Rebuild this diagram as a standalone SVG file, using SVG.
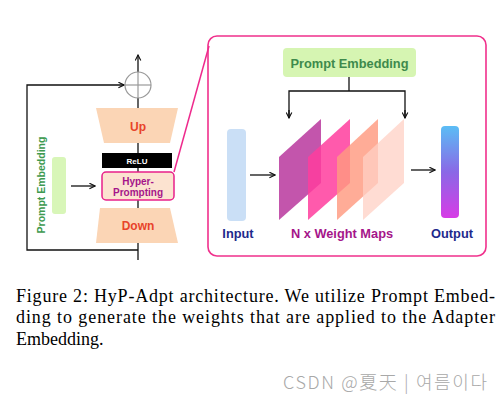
<svg xmlns="http://www.w3.org/2000/svg" width="502" height="402" viewBox="0 0 502 402">
<style>
.ln{fill:none;stroke:#111;stroke-width:1.3}
.trap{fill:#FBD5B5}
.lbl{font-family:"Liberation Sans",Arial,sans-serif;font-weight:bold;text-anchor:middle}
.cap{font-family:"Liberation Serif","Times New Roman",serif;font-size:18px;fill:#000}
</style>
<defs>
<marker id="ah" viewBox="0 0 10 10" refX="9" refY="5" markerWidth="7" markerHeight="7" orient="auto" markerUnits="userSpaceOnUse">
<path d="M1,1 L9,5 L1,9" fill="none" stroke="#111" stroke-width="1.6"/>
</marker>
<linearGradient id="og" x1="0" y1="0" x2="0" y2="1">
<stop offset="0" stop-color="#5BBDF5"/>
<stop offset="0.5" stop-color="#8A68E6"/>
<stop offset="1" stop-color="#D73BE6"/>
</linearGradient>
</defs>
<rect width="502" height="402" fill="#fff"/>

<g id="panel">
<rect x="208" y="36" width="278" height="220" rx="9" fill="#fff" stroke="#F0308C" stroke-width="1.6"/>
</g>

<g id="connectors">
<line class="ln" x1="138" y1="260" x2="138" y2="55" marker-end="url(#ah)"/>
<polyline class="ln" points="138,250 27,250 27,85 124,85" marker-end="url(#ah)"/>
<line class="ln" x1="71" y1="186" x2="95" y2="186" marker-end="url(#ah)"/>
<line x1="174" y1="172" x2="209" y2="46" stroke="#EE2A8C" stroke-width="1.5"/>
<polyline class="ln" points="349,77 349,91"/>
<polyline class="ln" points="289,118 289,91 405,91 405,118"/>
<line class="ln" x1="289" y1="110" x2="289" y2="118" marker-end="url(#ah)"/>
<line class="ln" x1="405" y1="110" x2="405" y2="118" marker-end="url(#ah)"/>
<line class="ln" x1="250" y1="175" x2="275" y2="175" marker-end="url(#ah)"/>
<line class="ln" x1="411" y1="170" x2="435" y2="170" marker-end="url(#ah)"/>
</g>

<g id="sum">
<circle cx="138" cy="85" r="13" fill="#fff" stroke="#999" stroke-width="1.2"/>
<line x1="125" y1="85" x2="151" y2="85" stroke="#999" stroke-width="1.2"/>
<line x1="138" y1="72" x2="138" y2="98" stroke="#999" stroke-width="1.2"/>
</g>

<g id="up">
<polygon class="trap" points="96,108 178,108 170,143 104,143"/>
<text class="lbl" x="138" y="131" font-size="12" fill="#E8432A">Up</text>
</g>

<g id="relu">
<rect x="102" y="153" width="70" height="15" fill="#000"/>
<text class="lbl" x="137" y="164" font-size="8" fill="#fff">ReLU</text>
</g>

<g id="hyper">
<rect x="102" y="172" width="72" height="28" rx="4" fill="#FCE3D0" stroke="#E8208A" stroke-width="1.5"/>
<text class="lbl" x="138" y="184.5" font-size="10" fill="#A5158A">Hyper-</text>
<text class="lbl" x="138" y="195.5" font-size="10" fill="#A5158A">Prompting</text>
</g>

<g id="down">
<polygon class="trap" points="100,208 170,208 178,243 96,243"/>
<text class="lbl" x="138" y="230" font-size="12" fill="#E8432A">Down</text>
</g>

<g id="prompt-left">
<rect x="52" y="157" width="14" height="57" rx="3" fill="#D8F6B8"/>
<text class="lbl" transform="translate(45,185) rotate(-90)" font-size="10.5" fill="#3E9A50">Prompt Embedding</text>
</g>

<g id="prompt-right">
<rect x="283" y="48" width="133" height="29" rx="4" fill="#D6F5B2"/>
<text class="lbl" x="349.5" y="67.5" font-size="12.8" fill="#3E8A4C">Prompt Embedding</text>
</g>

<g id="input">
<rect x="227" y="129" width="19" height="92" rx="4" fill="#CADFF6"/>
<text class="lbl" x="238" y="238" font-size="12.8" fill="#1E2A8C">Input</text>
</g>

<g id="weights">
<polygon points="279,157 321,119 321,183 279,220" fill="#C04CA8" opacity="0.95"/>
<polygon points="308,157 350,119 350,183 308,220" fill="#FF3D9E" opacity="0.85"/>
<polygon points="337,157 378,119 378,183 337,220" fill="#FF9A80" opacity="0.82"/>
<polygon points="363,157 404,119 404,183 363,220" fill="#FFD0C4" opacity="0.75"/>
<text class="lbl" x="342" y="238" font-size="12.8" fill="#A5158A">N x Weight Maps</text>
</g>

<g id="output">
<rect x="441" y="126" width="18" height="92" rx="4" fill="url(#og)"/>
<text class="lbl" x="452" y="238" font-size="12.8" fill="#1E2A8C">Output</text>
</g>

<g id="caption">
<text class="cap" x="16" y="302" textLength="479" lengthAdjust="spacing">Figure 2: HyP-Adpt architecture. We utilize Prompt Embed-</text>
<text class="cap" x="16" y="323" textLength="479" lengthAdjust="spacing">ding to generate the weights that are applied to the Adapter</text>
<text class="cap" x="16" y="345">Embedding.</text>
</g>
<text x="283" y="389" font-family="'Noto Sans CJK SC','Noto Sans CJK KR',sans-serif" font-size="18" font-weight="300" fill="#A8A8A8" textLength="204" lengthAdjust="spacing">CSDN @夏天 | 여름이다</text>
</svg>
